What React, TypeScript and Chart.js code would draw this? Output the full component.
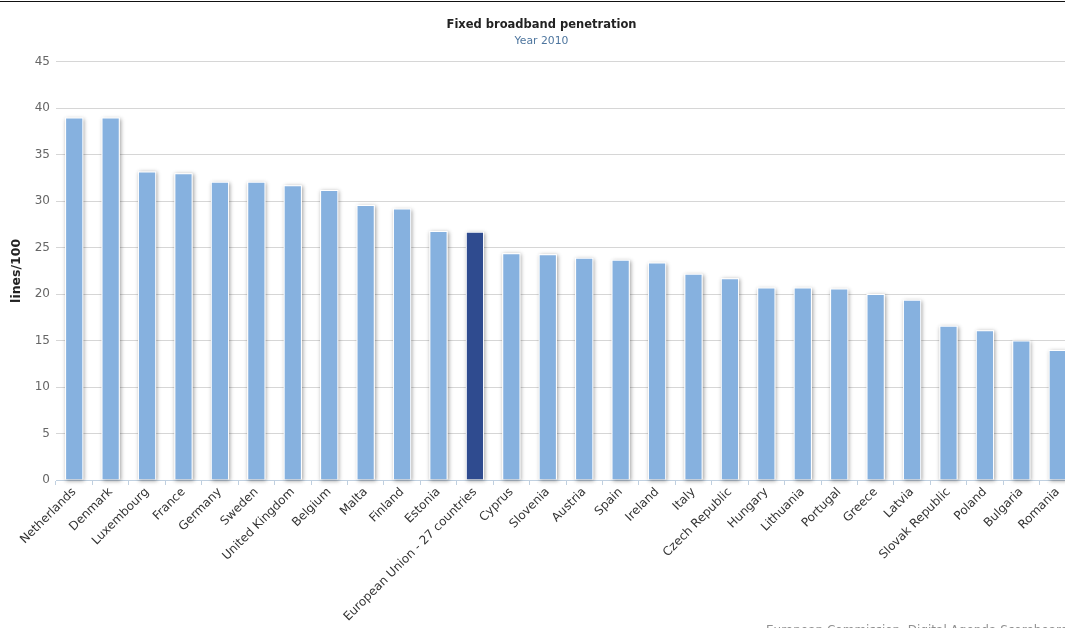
import React, { useEffect, useRef } from "react";
import { Chart, registerables } from "chart.js";

Chart.register(...registerables);

const categories: string[] = [
  "Netherlands", "Denmark", "Luxembourg", "France", "Germany", "Sweden",
  "United Kingdom", "Belgium", "Malta", "Finland", "Estonia",
  "European Union - 27 countries", "Cyprus", "Slovenia", "Austria", "Spain",
  "Ireland", "Italy", "Czech Republic", "Hungary", "Lithuania", "Portugal",
  "Greece", "Latvia", "Slovak Republic", "Poland", "Bulgaria", "Romania",
];

const values: number[] = [
  39.0, 39.0, 33.2, 33.0, 32.1, 32.1, 31.7, 31.2, 29.6, 29.2, 26.8, 26.7,
  24.4, 24.3, 23.9, 23.7, 23.4, 22.2, 21.7, 20.7, 20.7, 20.6, 20.0, 19.4,
  16.6, 16.1, 15.0, 14.0,
];

const highlightCategory = "European Union - 27 countries";
const titleText = "Fixed broadband penetration";
const subtitleText = "Year 2010";
const yAxisTitle = "lines/100";
const creditsText = "European Commission, Digital Agenda Scoreboard";

const LIGHT = "#86b1df";
const DARK = "#2f4b8f";

const shadowPlugin = {
  id: "barShadow",
  beforeDatasetsDraw(chart: any) {
    const ctx = chart.ctx;
    chart.data.datasets.forEach((_: any, i: number) => {
      const meta = chart.getDatasetMeta(i);
      meta.data.forEach((bar: any) => {
        const p = bar.getProps(["x", "y", "base", "width"], true);
        ctx.save();
        ctx.shadowColor = "rgba(0,0,0,0.38)";
        ctx.shadowBlur = 4;
        ctx.shadowOffsetX = 1;
        ctx.shadowOffsetY = 1;
        ctx.fillStyle = "#ffffff";
        ctx.fillRect(p.x - p.width / 2, p.y, p.width, p.base - p.y);
        ctx.restore();
      });
    });
  },
  afterDraw(chart: any) {
    const ctx = chart.ctx;
    ctx.save();
    ctx.font = "12px 'DejaVu Sans'";
    ctx.fillStyle = "#909090";
    ctx.textBaseline = "top";
    ctx.textAlign = "left";
    ctx.fillText(creditsText, 766, 625);
    ctx.restore();
  },
};

export default function App() {
  const ref = useRef<HTMLCanvasElement | null>(null);

  useEffect(() => {
    if (!ref.current) return;
    const chart = new Chart(ref.current, {
      type: "bar",
      data: {
        labels: categories,
        datasets: [
          {
            data: values,
            backgroundColor: categories.map((c) => (c === highlightCategory ? DARK : LIGHT)),
            borderColor: "#ffffff",
            borderWidth: 1,
            categoryPercentage: 1,
            barPercentage: 0.5,
          },
        ],
      },
      options: {
        responsive: false,
        animation: false,
        layout: { padding: { left: 7, right: 10, top: 0, bottom: 0 } },
        plugins: {
          legend: { display: false },
          tooltip: { enabled: false },
          title: {
            display: true,
            text: titleText,
            color: "#222222",
            font: { family: "'DejaVu Sans'", size: 11.5, weight: "bold" },
            padding: { top: 18, bottom: 3 },
          },
          subtitle: {
            display: true,
            text: subtitleText,
            color: "#4d759e",
            font: { family: "'DejaVu Sans'", size: 10.8 },
            padding: { top: 0, bottom: 14 },
          },
        },
        scales: {
          x: {
            afterFit: (scale: any) => {
              scale.height = 148;
            },
            grid: {
              display: true,
              drawOnChartArea: false,
              drawTicks: true,
              tickLength: 5,
              color: "#c0d0e0",
              offset: true,
            },
            border: { display: true, color: "#c0d0e0" },
            ticks: {
              autoSkip: false,
              maxRotation: 45,
              minRotation: 45,
              color: "#333333",
              padding: 0,
              font: { family: "'DejaVu Sans'", size: 12 },
            },
          },
          y: {
            min: 0,
            max: 45,
            afterFit: (scale: any) => {
              scale.width = 49;
            },
            ticks: {
              stepSize: 5,
              color: "#666666",
              padding: 6,
              font: { family: "'DejaVu Sans'", size: 12 },
            },
            grid: { color: "#d6d6d6", drawTicks: false },
            border: { display: false },
            title: {
              display: true,
              text: yAxisTitle,
              color: "#222222",
              font: { family: "'DejaVu Sans'", size: 12.5, weight: "bold" },
              padding: { top: 2.5, bottom: 0 },
            },
          },
        },
      },
      plugins: [shadowPlugin],
    });
    return () => chart.destroy();
  }, []);

  return (
    <div
      style={{
        position: "fixed",
        left: 0,
        top: 0,
        width: 1065,
        height: 628,
        overflow: "hidden",
        background: "#ffffff",
      }}
    >
      <canvas ref={ref} width={1086} height={628} style={{ display: "block" }} />
      <div
        style={{
          position: "absolute",
          left: 0,
          top: 1,
          width: 1065,
          height: 1,
          background: "#111111",
        }}
      />
    </div>
  );
}
